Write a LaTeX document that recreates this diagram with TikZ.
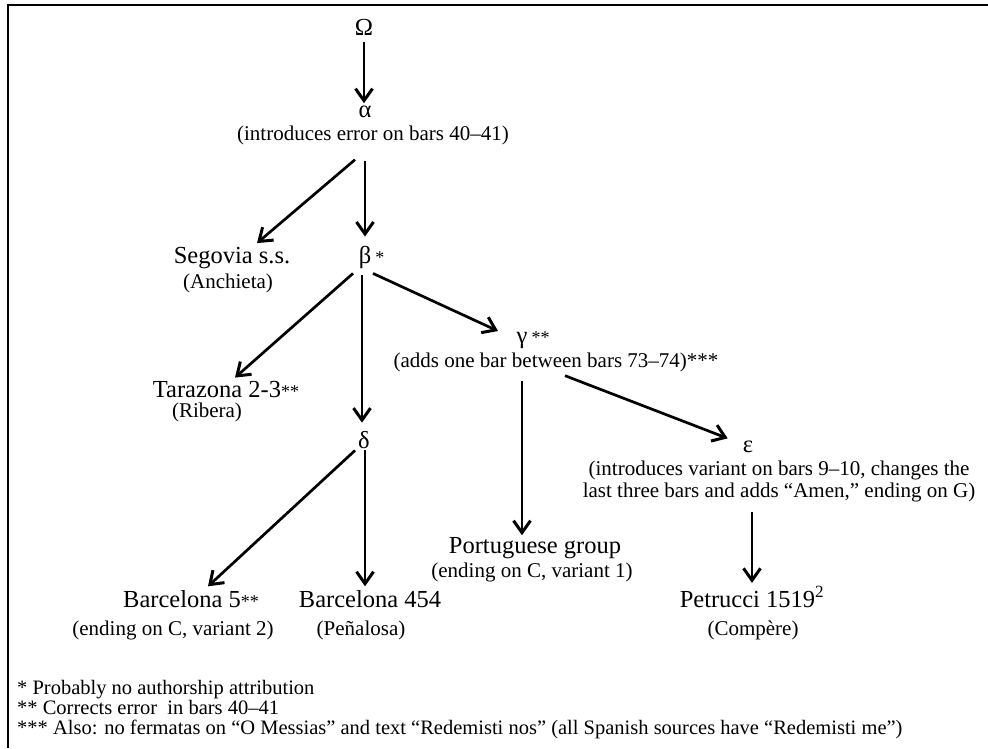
\documentclass[tikz,border=0pt]{standalone}
\usepackage{fontspec}
\setmainfont{Liberation Serif}
\usetikzlibrary{arrows.meta,calc}
\newcommand\mystars[1]{{\fontsize{18}{18}\selectfont #1}}
\begin{document}
\begin{tikzpicture}[x=1pt,y=-1pt,
  big/.style={font=\fontsize{24.5}{26}\selectfont, inner sep=0pt, anchor=base},
  small/.style={font=\fontsize{21}{22}\selectfont, inner sep=0pt, anchor=base},
  arr/.style={line width=2.7pt, -{Straight Barb[length=12pt,width=17pt,line width=3pt]}},
  frame/.style={line width=1.3pt}
]
\useasboundingbox (0,0) rectangle (988,748);
\draw[frame] (8,748) -- (8,5) -- (988,5);

\node[big] (om) at (364,35) {Ω};
\node[big] (al) at (365,117) {α};
\node[small] (asub) at (373,140) {(introduces error on bars 40–41)};
\node[big] (seg) at (232,263) {Segovia s.s.};
\node[small] (segsub) at (228,288) {(Anchieta)};
\node[big] (be) at (365,263) {β\rlap{\,\mystars{*}}};
\node[big] (tar) at (226,397) {Tarazona 2-3\mystars{**}};
\node[small] (tarsub) at (207,417) {(Ribera)};
\node[big] (de) at (364,448) {δ};
\node[big] (ga) at (522,343) {γ\rlap{\,\mystars{**}}};
\node[small] (gasub) at (556,367) {(adds one bar between bars 73–74)***};
\node[big] (ep) at (748,452) {ε};
\node[small, anchor=north, align=center] (epsub) at (779,461) {(introduces variant on bars 9–10, changes the\\last three bars and adds “Amen,” ending on G)};
\node[big] (port) at (535,553) {Portuguese group};
\node[small] (portsub) at (532,577) {(ending on C, variant 1)};
\node[big] (b5) at (191,607) {Barcelona 5\mystars{**}};
\node[small] (b5sub) at (173,635) {(ending on C, variant 2)};
\node[big] (b454) at (370,607) {Barcelona 454};
\node[small] (b454sub) at (361,635) {(Peñalosa)};
\node[big] (pet) at (752,607) {Petrucci 1519\textsuperscript{2}};
\node[small] (petsub) at (753,635) {(Compère)};
\node[font=\fontsize{20.5}{20}\selectfont, inner sep=0pt, anchor=north west, align=left] (fn) at (17,680)
  {* Probably no authorship attribution\\\relax ** Corrects error\ \ in bars 40–41\\\relax *** Also: no fermatas on “O Messias” and text “Redemisti nos” (all Spanish sources have “Redemisti me”)};

\draw[arr] ($(om.south)+(0,7)$) -- ($(al.north)+(-1,-2)$);
\draw[arr] ($(asub.south)+(-8,16)$) -- ($(be.north)+(0,-9)$);
\draw[arr] ($(asub.south)+(-18,15)$) -- ($(seg.north)+(25,-3.5)$);
\draw[arr] ($(be.south)+(-12,5)$) -- ($(tar.north)+(9,-3)$);
\draw[arr] ($(be.south)+(-3,7)$) -- ($(de.north)+(-2,-8)$);
\draw[arr] ($(be.south)+(8,5)$) -- ($(ga.north)+(-24,0)$);
\draw[arr] ($(gasub.south)+(-34,9)$) -- ($(port.north)+(-13,-1.5)$);
\draw[arr] ($(gasub.south)+(9,4)$) -- ($(ep.west)+(-15,-8)$);
\draw[arr] ($(de.south)+(-9,2)$) -- ($(b5.north)+(17,-3.5)$);
\draw[arr] ($(de.south)+(1,2)$) -- ($(b454.north)+(-5,-3.5)$);
\draw[arr] ($(epsub.south)+(-27,9)$) -- ($(pet.north)+(0,-3.5)$);
\end{tikzpicture}
\end{document}
